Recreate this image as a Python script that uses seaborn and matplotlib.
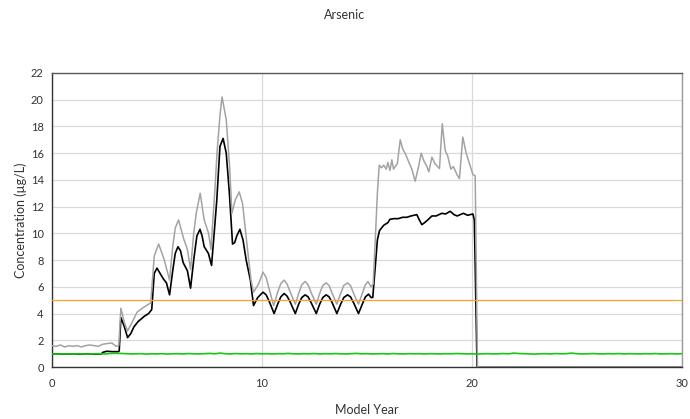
import numpy as np
import pandas as pd
import matplotlib
matplotlib.use("Agg")
import matplotlib.pyplot as plt
import seaborn as sns
from matplotlib.ticker import MultipleLocator

# --- data ---
# black series (model year, concentration ug/L)
black_years = [0, 0.5, 1.0, 1.5, 2.0, 2.35, 2.42, 2.6, 2.9, 3.15, 3.2, 3.28,
               3.45, 3.6, 3.75, 3.9, 4.1, 4.4, 4.6, 4.75, 4.87, 5.0, 5.15, 5.3,
               5.45, 5.6, 5.75, 5.87, 6.0, 6.12, 6.25, 6.45, 6.6, 6.75, 6.9,
               7.05, 7.15, 7.25, 7.45, 7.6, 7.75, 7.85, 8.0, 8.15, 8.3, 8.45,
               8.6, 8.7, 8.8, 8.95, 9.1, 9.25, 9.45, 9.6, 9.8, 10.05, 10.2,
               10.35, 10.58, 10.75, 10.9, 11.06, 11.2, 11.35, 11.59, 11.75,
               11.9, 12.06, 12.2, 12.35, 12.59, 12.75, 12.9, 13.06, 13.2,
               13.35, 13.57, 13.75, 13.9, 14.08, 14.22, 14.37, 14.6, 14.78,
               14.93, 15.08, 15.2, 15.28, 15.4, 15.5, 15.6, 15.8, 16.0, 16.1,
               16.3, 16.5, 16.7, 16.9, 17.1, 17.38, 17.5, 17.62, 17.75, 17.9,
               18.1, 18.3, 18.57, 18.75, 18.97, 19.15, 19.3, 19.45, 19.6,
               19.8, 19.92, 20.05, 20.12, 20.25, 22.0, 30.0]
black_conc = [0.97, 0.98, 0.97, 0.98, 0.97, 0.98, 1.1, 1.18, 1.15, 1.15, 1.2, 3.7,
              3.0, 2.2, 2.5, 3.0, 3.4, 3.8, 4.0, 4.3, 7.0, 7.4, 7.0, 6.6,
              6.3, 5.4, 7.2, 8.5, 9.0, 8.7, 7.8, 7.2, 5.9, 8.0, 9.8,
              10.3, 9.8, 9.0, 8.5, 7.6, 10.5, 12.5, 16.5, 17.1, 16.0, 13.0,
              9.2, 9.3, 9.8, 10.3, 9.5, 8.0, 6.5, 4.6, 5.2, 5.6, 5.4,
              4.9, 4.0, 4.7, 5.25, 5.5, 5.3, 4.85, 4.0, 4.7,
              5.2, 5.4, 5.25, 4.8, 4.0, 4.7, 5.2, 5.4, 5.25,
              4.8, 4.0, 4.7, 5.2, 5.4, 5.25, 4.8, 4.0, 4.7,
              5.25, 5.45, 5.2, 5.2, 7.5, 9.5, 10.2, 10.6, 10.8, 11.05,
              11.1, 11.1, 11.2, 11.2, 11.3, 11.4, 11.0, 10.65, 10.8, 11.0,
              11.3, 11.3, 11.5, 11.45, 11.65, 11.4, 11.3, 11.4, 11.5,
              11.35, 11.4, 11.45, 11.0, 0.0, 0.0, 0.0]

# grey series
grey_years = [0, 0.2, 0.4, 0.6, 0.8, 1.0, 1.2, 1.4, 1.6, 1.8, 2.0, 2.2, 2.4,
              2.6, 2.85, 3.05, 3.18, 3.28, 3.45, 3.6, 3.8, 4.05, 4.3, 4.5,
              4.7, 4.87, 5.08, 5.35, 5.6, 5.75, 5.87, 6.03, 6.27, 6.45, 6.6,
              6.75, 6.87, 7.06, 7.25, 7.46, 7.57, 7.75, 7.86, 8.0, 8.1, 8.3,
              8.46, 8.57, 8.73, 8.92, 9.08, 9.3, 9.48, 9.6, 9.84, 10.05,
              10.2, 10.35, 10.56, 10.75, 10.9, 11.06, 11.2, 11.35, 11.59,
              11.75, 11.9, 12.06, 12.2, 12.35, 12.59, 12.75, 12.9, 13.06,
              13.2, 13.35, 13.57, 13.75, 13.9, 14.08, 14.22, 14.37, 14.6,
              14.78, 14.93, 15.05, 15.2, 15.3, 15.4, 15.5, 15.59, 15.7,
              15.8, 15.92, 16.0, 16.1, 16.19, 16.27, 16.35, 16.45, 16.59,
              16.71, 16.82, 16.98, 17.14, 17.3, 17.45, 17.59, 17.72, 17.86,
              17.95, 18.1, 18.25, 18.46, 18.59, 18.73, 18.85, 19.0, 19.12,
              19.29, 19.41, 19.57, 19.73, 19.89, 19.95, 20.05, 20.16, 20.27,
              22.0, 30.0]
grey_conc = [1.6, 1.55, 1.65, 1.5, 1.6, 1.55, 1.6, 1.5, 1.6, 1.65, 1.6, 1.55, 1.7,
             1.75, 1.8, 1.55, 1.6, 4.4, 3.3, 2.7, 3.3, 4.1, 4.4, 4.6,
             4.8, 8.3, 9.2, 8.0, 6.5, 9.0, 10.4, 11.0, 9.6, 8.8, 7.3,
             10.0, 11.5, 13.0, 11.0, 10.0, 8.8, 13.0, 16.0, 18.8, 20.2, 18.5,
             15.0, 11.5, 12.5, 13.1, 12.2, 9.0, 6.5, 5.6, 6.2, 7.1,
             6.7, 5.8, 4.6, 5.6, 6.25, 6.5, 6.2, 5.6, 4.7,
             5.5, 6.15, 6.4, 6.15, 5.55, 4.7, 5.5, 6.1, 6.3,
             6.1, 5.5, 4.7, 5.5, 6.1, 6.3, 6.1, 5.5, 4.7,
             5.5, 6.15, 6.4, 6.0, 6.2, 9.5, 13.0, 15.1, 14.9,
             15.1, 14.8, 15.3, 14.7, 15.5, 14.8, 15.0, 15.2, 17.0,
             16.3, 16.0, 15.4, 14.8, 13.9, 14.9, 16.0, 15.4, 15.0,
             14.6, 15.7, 15.2, 14.85, 18.2, 16.2, 15.8, 14.8, 15.0,
             14.4, 14.1, 17.2, 16.0, 15.2, 14.9, 14.4, 14.3, 0.0,
             0.0, 0.0]

# green series, every 0.25 model years
green_years = [i * 0.25 for i in range(121)]
green_conc = [0.98, 0.97, 0.99, 0.98, 0.97, 1.0, 0.98, 0.97, 0.99, 1.0,
              0.98, 1.01, 1.03, 1.02, 1.0, 0.98, 0.99, 1.0, 0.97, 0.99,
              0.98, 1.0, 0.97, 0.99, 1.0, 0.98, 1.01, 0.99, 0.98, 1.0,
              1.02, 0.99, 1.04, 1.0, 0.98, 1.01, 0.99, 1.0, 0.98, 1.01,
              0.99, 1.0, 0.98, 1.0, 0.99, 1.02, 0.99, 0.98, 1.0, 0.99,
              1.01, 0.98, 1.0, 0.99, 1.01, 0.99, 0.98, 1.0, 1.02, 0.99,
              1.0, 0.98, 0.99, 1.0, 0.98, 1.01, 0.99, 0.98, 1.0, 0.99,
              1.0, 0.98, 1.0, 0.99, 0.98, 1.0, 0.99, 1.01, 1.0, 0.98,
              0.99, 0.97, 0.99, 1.0, 0.98, 0.99, 1.01, 0.99, 1.04, 1.01,
              1.0, 0.98, 0.97, 0.99, 1.0, 0.98, 1.01, 0.99, 1.0, 1.04,
              1.0, 0.98, 0.99, 1.01, 0.99, 0.98, 1.0, 0.99, 1.01, 0.98,
              1.0, 0.99, 0.98, 1.0, 0.99, 1.01, 0.98, 0.99, 1.0, 0.98, 1.0]

# orange reference line
orange_years = [0, 30]
orange_conc = [5.0, 5.0]

sns.set_style("white")
plt.rcParams['font.family'] = ['Lato', 'DejaVu Sans']

fig = plt.figure(figsize=(6.9, 4.19), dpi=100)
ax = fig.add_axes([0.0754, 0.124, 0.9126, 0.702])

sns.lineplot(x=black_years, y=black_conc, ax=ax, color="black", lw=1.2, sort=False, zorder=3)
sns.lineplot(x=grey_years, y=grey_conc, ax=ax, color="#a3a3a3", lw=1.1, sort=False, zorder=4)
sns.lineplot(x=orange_years, y=orange_conc, ax=ax, color="#f7a42c", lw=0.9, zorder=5)
sns.lineplot(x=green_years, y=green_conc, ax=ax, color="#14c814", lw=1.2, sort=False, zorder=6)

ax.set_xlim(0, 30)
ax.set_ylim(0, 22)
ax.xaxis.set_major_locator(MultipleLocator(10))
ax.xaxis.set_minor_locator(MultipleLocator(5))
ax.yaxis.set_major_locator(MultipleLocator(2))
ax.yaxis.set_minor_locator(MultipleLocator(1))
ax.grid(True, which="major", color="#d9d9d9", lw=0.9)
ax.set_axisbelow(True)

ax.tick_params(axis="both", which="major", labelsize=8, colors="#333333", length=4, width=0.8)
ax.tick_params(axis="x", which="major", direction="out")
ax.tick_params(axis="x", which="minor", direction="in", length=3, width=0.8, colors="#333333")
ax.tick_params(axis="y", which="minor", direction="out", length=3, width=0.8, colors="#333333")
ax.tick_params(axis="y", which="major", direction="out", pad=2)
ax.tick_params(axis="x", which="major", pad=4)

for side in ["left", "bottom"]:
    ax.spines[side].set_color("#333333")
    ax.spines[side].set_linewidth(1.0)
ax.spines["top"].set_color("#595959")
ax.spines["top"].set_linewidth(1.0)
ax.spines["right"].set_color("#9a9a9a")
ax.spines["right"].set_linewidth(1.0)

ax.set_xlabel("Model Year", fontsize=9, color="#333333", labelpad=11)
ax.set_ylabel("Concentration (µg/L)", fontsize=9, color="#333333", labelpad=3)
fig.text(0.5, 0.965, "Arsenic", ha="center", va="center", fontsize=9, color="#333333")

fig.savefig("out.png", dpi=100)
